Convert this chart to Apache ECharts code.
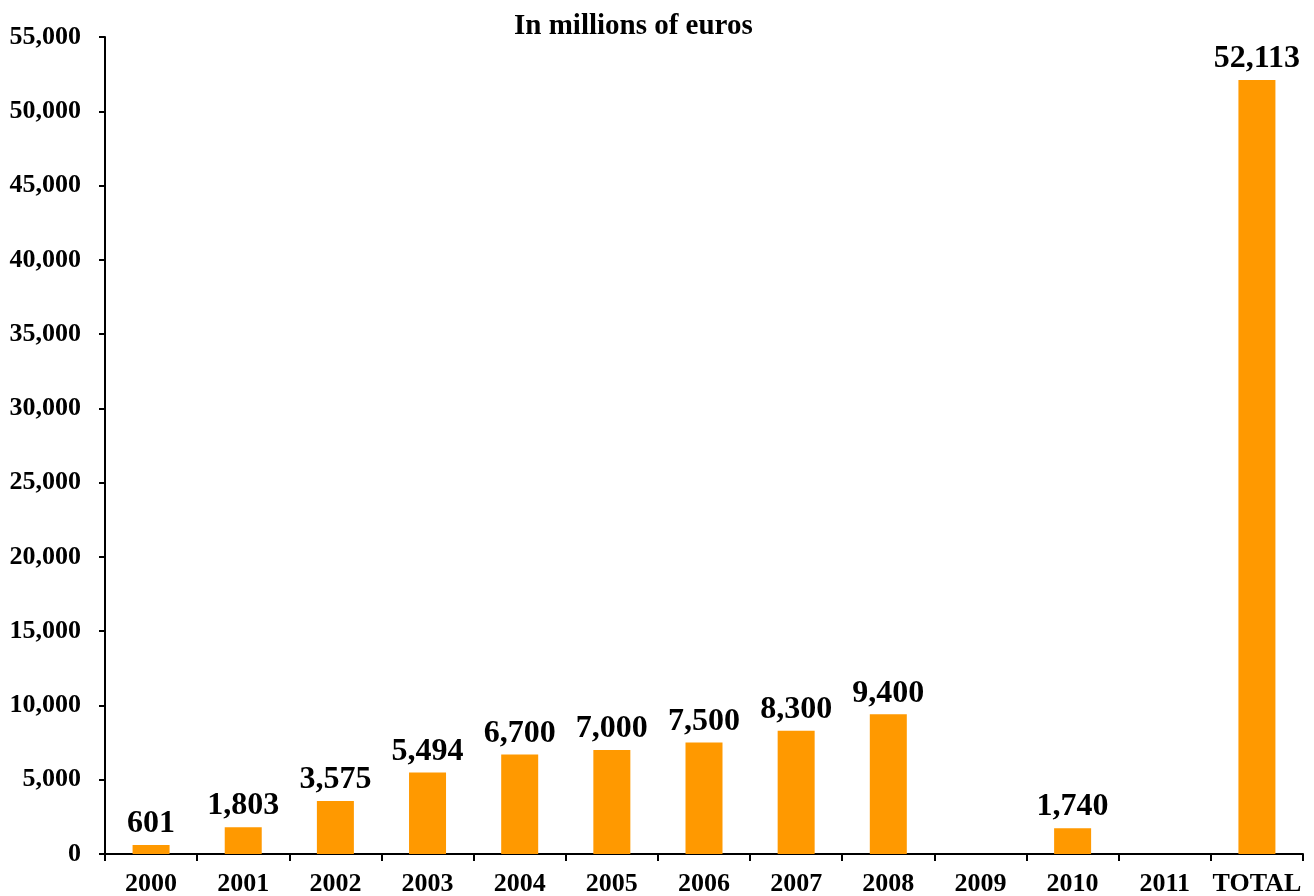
<!DOCTYPE html>
<html>
<head>
<meta charset="utf-8">
<script src="https://cdn.jsdelivr.net/npm/echarts@6/dist/echarts.min.js"></script>
<style>html,body{margin:0;padding:0;background:#fff}#c{width:1314px;height:896px}</style>
</head>
<body>
<div id="c"></div>
<script>
const categories = ['2000','2001','2002','2003','2004','2005','2006','2007','2008','2009','2010','2011','TOTAL'];
const values = [601, 1803, 3575, 5494, 6700, 7000, 7500, 8300, 9400, null, 1740, null, 52113];
const yTicks = {min: 0, max: 55000, interval: 5000};
const titleText = 'In millions of euros';

const font = '"Liberation Serif","Times New Roman",serif';
const chart = echarts.init(document.getElementById('c'));
chart.setOption({
  animation: false,
  title: {text: titleText, left: 509, top: 7,
    textStyle: {fontFamily: font, fontWeight: 'bold', fontSize: 29, color: '#000'}},
  grid: {left: 105, right: 11, top: 37, bottom: 42, containLabel: false, outerBoundsMode: 'none'},
  xAxis: {
    type: 'category', data: categories,
    axisLine: {lineStyle: {color: '#000', width: 2}},
    axisTick: {show: true, alignWithLabel: false, length: 7, lineStyle: {color: '#000', width: 2}},
    axisLabel: {interval: 0, margin: 17, fontFamily: font, fontWeight: 'bold', fontSize: 26, color: '#000'}
  },
  yAxis: {
    type: 'value', min: yTicks.min, max: yTicks.max, interval: yTicks.interval,
    splitLine: {show: false},
    axisLine: {show: true, lineStyle: {color: '#000', width: 2}},
    axisTick: {show: true, length: 6, lineStyle: {color: '#000', width: 2}},
    axisLabel: {margin: 24, fontFamily: font, fontWeight: 'bold', fontSize: 26, color: '#000',
      formatter: v => v.toLocaleString('en-US')}
  },
  series: [{
    type: 'bar', data: values, barWidth: 37,
    itemStyle: {color: '#FF9900'},
    label: {show: true, position: 'top', distance: 5, fontFamily: font, fontWeight: 'bold', fontSize: 32, color: '#000',
      formatter: p => p.value == null ? '' : p.value.toLocaleString('en-US')}
  }]
});
</script>
</body>
</html>
